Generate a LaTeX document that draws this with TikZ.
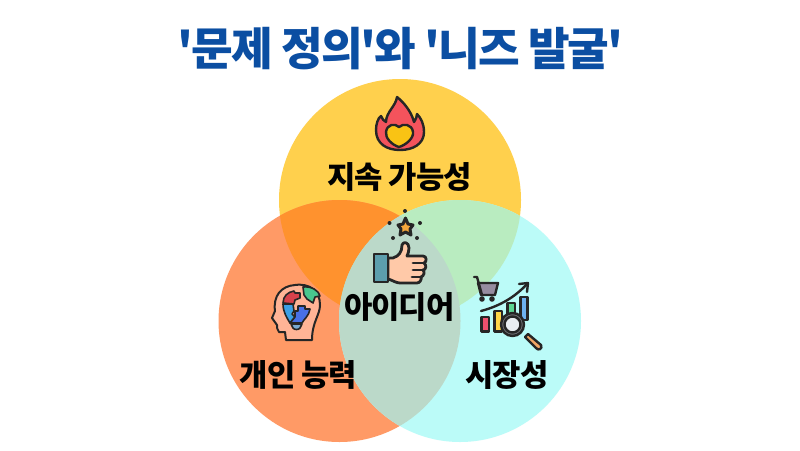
\documentclass[tikz,border=0pt]{standalone}
\usepackage{fontspec}
\newfontfamily\kr[LetterSpace=-3.5]{Noto Sans CJK KR Black}
\newfontfamily\krt[LetterSpace=-4.5]{Noto Sans CJK KR Black}
\definecolor{ctop}{HTML}{FFD04D}
\definecolor{cleft}{HTML}{FF9A66}
\definecolor{cright}{HTML}{BBFBF8}
\definecolor{ctl}{HTML}{FF922E}
\definecolor{ctr}{HTML}{B9ECC0}
\definecolor{cmid}{HTML}{BBD9C9}
\definecolor{navy}{HTML}{0B4EA2}
\definecolor{ink}{HTML}{262626}
\tikzset{
  lab/.style={font=\kr\fontsize{30.8}{30.8}\selectfont, text=black, inner sep=0pt, anchor=center},
  ttl/.style={font=\krt\fontsize{45.3}{45.3}\selectfont, text=navy, inner sep=0pt, anchor=center},
  ic/.style={draw=ink, line width=2.4pt, line join=round, line cap=round}
}
\begin{document}
\begin{tikzpicture}[x=1pt,y=-1pt]
\useasboundingbox (0,0) rectangle (800,450);
\fill[white] (0,0) rectangle (800,450);
\fill[ctop] (400,200) circle[radius=121];
\fill[cleft] (339.5,321) circle[radius=121];
\fill[cright] (460,321) circle[radius=121];
\begin{scope}\clip (400,200) circle[radius=121]; \fill[ctl] (339.5,321) circle[radius=121]; \fill[ctr] (460,321) circle[radius=121]; \end{scope}
\begin{scope}\clip (339.5,321) circle[radius=121]; \fill[cmid] (460,321) circle[radius=121]; \end{scope}
\node[ttl] (title) at (400.5,49) {'문제 정의'와 '니즈 발굴'};
\node[lab] (a) at (399.5,176.5) {지속 가능성};
\node[lab] (b) at (399.5,306.5) {아이디어};
\node[lab] (c) at (298.5,374.5) {개인 능력};
\node[lab] (d) at (507,374.5) {시장성};
% flame
\path[ic,fill={rgb,255:red,244;green,83;blue,92}] (397,97) .. controls (402,101) and (411,110) .. (414,122) .. controls (416,119) and (417,116) .. (417,114) .. controls (421,118) and (424,124) .. (424,132) .. controls (424,144) and (413,150) .. (400,150) .. controls (387,150) and (376,144) .. (376,130) .. controls (376,124) and (378,118) .. (381,116) .. controls (382,119) and (384,121) .. (386,122) .. controls (386,112) and (396,106) .. (397,97) -- cycle;
\path[ic,fill={rgb,255:red,249;green,195;blue,20}] (399,127) .. controls (403,123) and (412,124) .. (413,132) .. controls (414,138) and (406,145) .. (399,147) .. controls (392,145) and (385,138) .. (386,132) .. controls (387,124) and (395,123) .. (399,127) -- cycle;
% star and sparks
\path[ic,line width=3pt,fill={rgb,255:red,244;green,167;blue,60}] (405.5,218) -- (408,224) -- (413,225) -- (410,229) -- (411,235) -- (405.5,232) -- (400,235) -- (401,229) -- (398,225) -- (403,224) -- cycle;
\fill[ink] (405,211) circle[radius=2] (389.5,223) circle[radius=2] (420,223) circle[radius=2] (393,238) circle[radius=2] (417,238) circle[radius=2];
% thumb
\path[ic,line width=2.8pt,fill={rgb,255:red,255;green,201;blue,168}] (388,258) -- (393,258) .. controls (399,256) and (402,252) .. (402,245) .. controls (403,241) and (409,242) .. (409,248) .. controls (409,251) and (408,254) .. (407,256) -- (423,256) .. controls (427,256) and (427,262) .. (424,263) .. controls (427,265) and (426,270) .. (423,270) .. controls (425,272) and (424,276) .. (421,277) .. controls (422,279) and (420,283) .. (417,283) -- (400,283) .. controls (396,283) and (392,280) .. (388,279) -- cycle;
\draw[ic,line width=2.8pt] (413,263) -- (424,263) (413,270) -- (423,270) (412,277) -- (421,277);
\path[ic,line width=2.8pt,fill={rgb,255:red,92;green,158;blue,173}] (374,254) rectangle (388,282);
% head
\path[ic,line width=2pt,fill={rgb,255:red,255;green,180;blue,150}] (286,340) -- (285,332) -- (279,332) .. controls (277,330) and (277,327) .. (277,325) -- (272,318) -- (275,311) .. controls (273,296) and (281,286) .. (295,285) .. controls (310,283) and (320,291) .. (320,305) .. controls (320,315) and (312,322) .. (312,340) -- cycle;
\path[ic,line width=1.6pt,fill={rgb,255:red,215;green,65;blue,75}] (283,303) .. controls (283,296) and (288,292) .. (294,291) -- (295,293) -- (300,293) -- (300,298) -- (295,300) -- (294,304) -- cycle;
\path[ic,line width=1.6pt,fill={rgb,255:red,72;green,199;blue,142}] (303,287) .. controls (312,286) and (319,291) .. (320,296) -- (315,297) -- (313,303) -- (307,299) -- (304,295) -- cycle;
\path[ic,line width=1.6pt,fill={rgb,255:red,60;green,160;blue,230}] (283,304) -- (293,304) -- (294,311) -- (292,314) -- (295,317) -- (290,323) .. controls (287,318) and (283,312) .. (283,304) -- cycle;
\path[ic,line width=1.6pt,fill={rgb,255:red,72;green,112;blue,230}] (295,311) -- (298,311) -- (298,306) -- (305,306) -- (305,309) -- (310,309) .. controls (309,316) and (304,319) .. (302,323) -- (290,323) -- (295,317) -- cycle;
\path[ic,line width=1.6pt,fill={rgb,255:red,120;green,170;blue,210}] (291,324) -- (302,324) -- (300,328) .. controls (299,330) and (294,330) .. (293,328) -- cycle;
% cart
\path[ic,fill={rgb,255:red,150;green,140;blue,160}] (478,283) -- (498,283) -- (495,295) -- (481,295) -- cycle;
\draw[ic] (474,277) -- (477,277) -- (482,295);
\fill[ink] (482,299) circle[radius=2.8] (492,299) circle[radius=2.8];
% trend arrow
\draw[ic] (481,311) .. controls (500,306) and (515,297) .. (527,284);
\draw[ic] (519,284) -- (528,283) -- (527,292);
% bars
\path[ic,fill={rgb,255:red,240;green,80;blue,110}] (481.5,317) rectangle (489,331.5);
\path[ic,fill={rgb,255:red,255;green,214;blue,72}] (494.5,311) rectangle (502,331.5);
\path[ic,fill={rgb,255:red,92;green,214;blue,146}] (507.5,303) rectangle (515,320);
\path[ic,fill={rgb,255:red,110;green,178;blue,240}] (520.5,297) rectangle (527.5,320);
% magnifier
\path[ic,fill={rgb,255:red,240;green,165;blue,100}] (528,334) -- (541,345) .. controls (543,349) and (538,351) .. (536,348) -- (525,337) -- cycle;
\path[ic,fill={rgb,255:red,110;green,110;blue,115}] (512.5,324.5) circle[radius=11.5];
\path[ic,fill={rgb,255:red,234;green,238;blue,242}] (512.5,324.5) circle[radius=8];
\end{tikzpicture}
\end{document}
